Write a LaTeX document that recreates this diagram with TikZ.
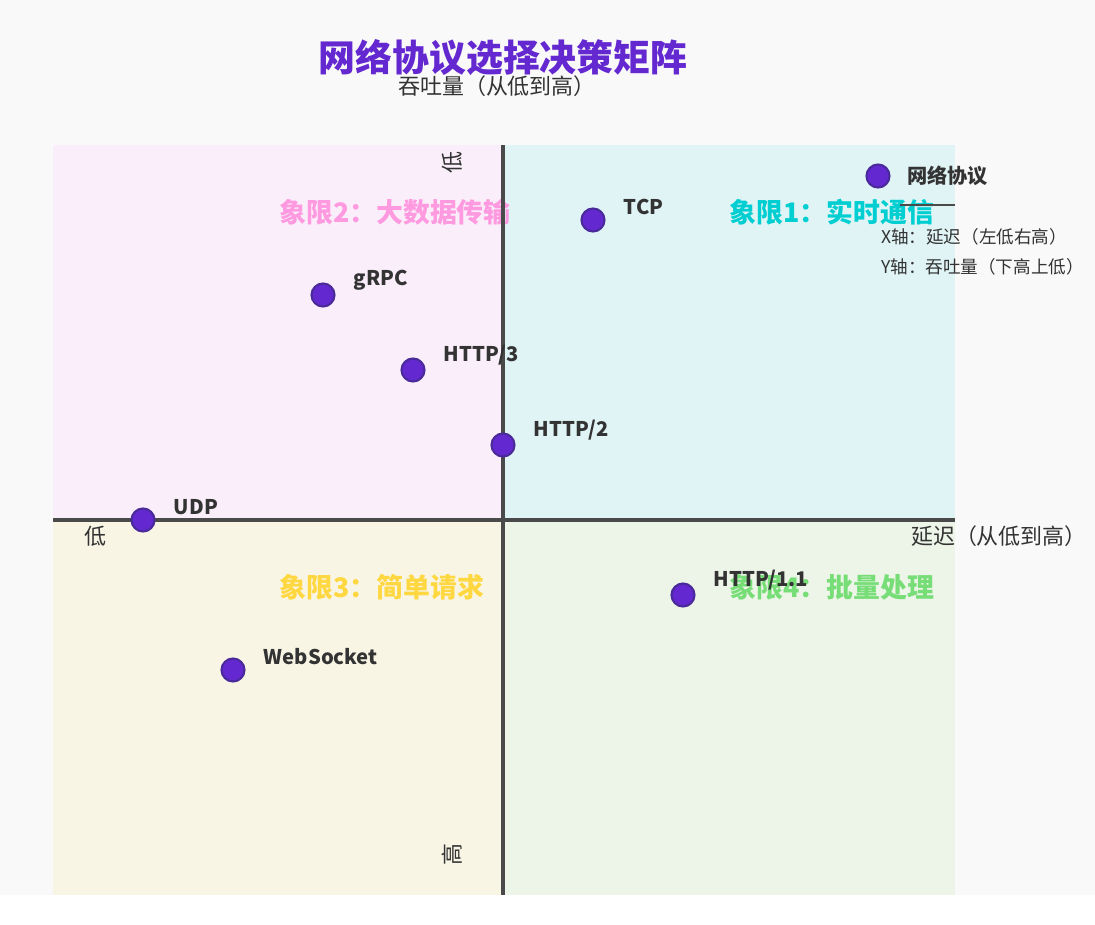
\documentclass[tikz,border=0pt]{standalone}
\usepackage{fontspec}
\setmainfont{Noto Sans CJK SC}
\usetikzlibrary{positioning}
\definecolor{bgc}{HTML}{F9F9F9}
\definecolor{qone}{HTML}{E0F4F6}
\definecolor{qtwo}{HTML}{F9EEF9}
\definecolor{qthree}{HTML}{F8F5E5}
\definecolor{qfour}{HTML}{EDF5E8}
\definecolor{qonet}{HTML}{00CED1}
\definecolor{qtwot}{HTML}{FF99E0}
\definecolor{qthreet}{HTML}{FFD740}
\definecolor{qfourt}{HTML}{77DD77}
\definecolor{ptfill}{HTML}{6428D0}
\definecolor{ptline}{HTML}{4A2A9A}
\definecolor{txt}{HTML}{333333}
\definecolor{axc}{HTML}{4A4A4A}
\tikzset{
  pt/.style={circle,draw=ptline,line width=1.2pt,fill=ptfill,minimum size=0.46cm,inner sep=0pt},
  ptlabel/.style={font=\bfseries\fontsize{11.5}{13}\selectfont,text=txt,anchor=south west,inner sep=1pt},
  quad/.style={font=\bfseries\fontsize{15.3}{17}\selectfont},
  axlabel/.style={font=\fontsize{12.5}{14}\selectfont,text=txt},
}
\begin{document}
\begin{tikzpicture}[x=0.02cm,y=-0.02cm]
\useasboundingbox (0,0) rectangle (1095,925);
\fill[bgc] (0,0) rectangle (1095,895);
\fill[white] (0,895) rectangle (1095,925);
% quadrants
\fill[qtwo] (53,145) rectangle (503,520);
\fill[qone] (503,145) rectangle (955,520);
\fill[qthree] (53,520) rectangle (503,895);
\fill[qfour] (503,520) rectangle (955,895);
\node[quad,text=qtwot] (q2) at (395,212) {象限2：大数据传输};
\node[quad,text=qonet] (q1) at (832,212) {象限1：实时通信};
\node[quad,text=qthreet] (q3) at (382,587) {象限3：简单请求};
\node[quad,text=qfourt] (q4) at (832,587) {象限4：批量处理};
% axes
\draw[axc,line width=1.8pt] (53,520) -- (955,520);
\draw[axc,line width=1.8pt] (503,145) -- (503,895);
\node[axlabel,anchor=east] (xlab) at (1093,536) {延迟（从低到高）};
\node[axlabel] (xlow) at (95,536) {低};
\node[axlabel] (ylab) at (497,86) {吞吐量（从低到高）};
\node[axlabel,rotate=90] (ylow) at (452,163) {低};
\node[axlabel,rotate=90] (yhigh) at (452,855) {高};
\node[font=\bfseries\fontsize{21}{23}\selectfont,text=ptfill] (title) at (503,58) {网络协议选择决策矩阵};
% points
\foreach \name/\px/\py/\txt in {tcp/593/220/TCP, grpc/323/295/gRPC, http3/413/370/HTTP\slash 3,
  http2/503/445/HTTP\slash 2, udp/143/520/UDP, http11/683/595/HTTP\slash 1.1, ws/233/670/WebSocket}{
  \node[pt] (\name) at (\px,\py) {};
  \node[ptlabel] at ([xshift=0.4cm,yshift=-0.12cm]\name.north east) {\txt};
}
% legend
\node[pt] (leg) at (878,176) {};
\node[ptlabel,anchor=west] (legt) at (905,176) {网络协议};
\coordinate (la) at (900,205);
\coordinate (lb) at (955,205);
\draw[axc,line width=1pt] (la) -- (lb);
\node[font=\fontsize{10}{12}\selectfont,text=txt,anchor=west] (lx) at (875,237) {X轴：延迟（左低右高）};
\node[font=\fontsize{10}{12}\selectfont,text=txt,anchor=west] (ly) at (875,267) {Y轴：吞吐量（下高上低）};
\end{tikzpicture}
\end{document}
